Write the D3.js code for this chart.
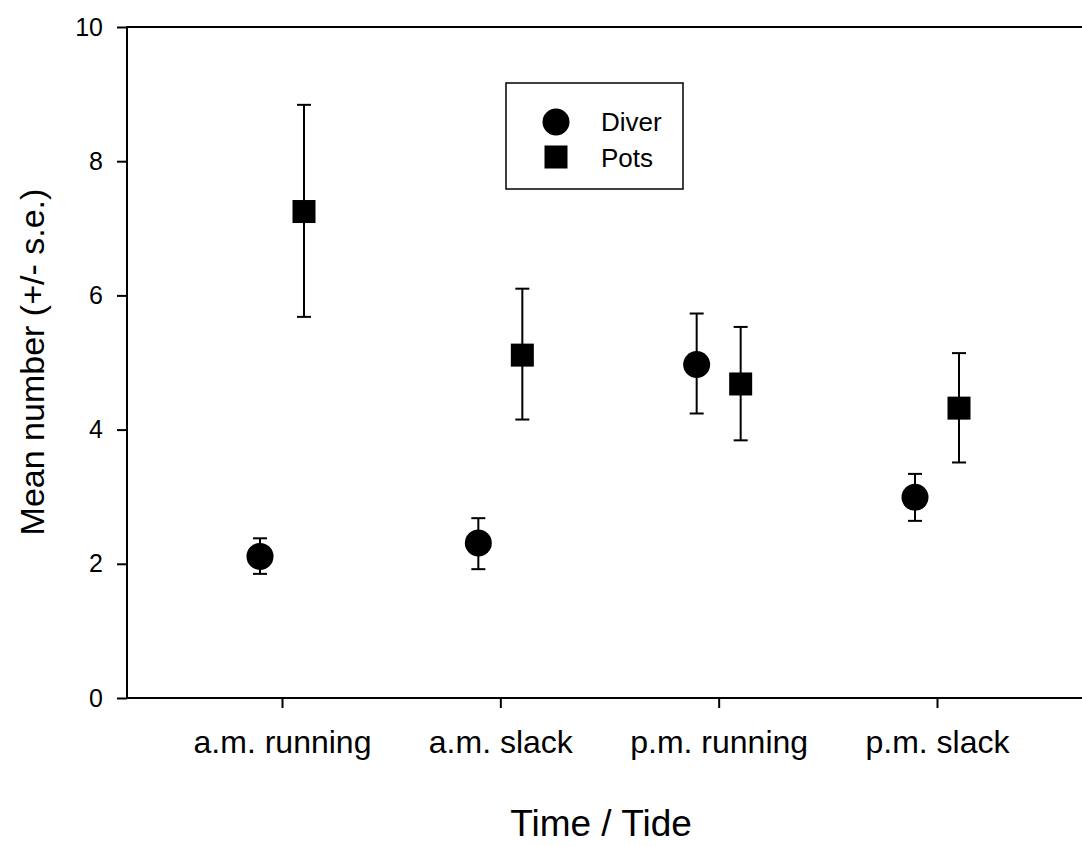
<!DOCTYPE html>
<html>
<head>
<meta charset="utf-8">
<script src="https://cdn.jsdelivr.net/npm/d3@7"></script>
<style>
  html, body { margin: 0; padding: 0; background: #fff; }
  svg { display: block; font-family: "Liberation Sans", Arial, sans-serif; }
</style>
</head>
<body>
<svg id="chart" width="1082" height="846"></svg>
<script>
const categories = ["a.m. running", "a.m. slack", "p.m. running", "p.m. slack"];
const diverMean = [2.11, 2.31, 4.97, 2.99];
const diverUpper = [2.38, 2.68, 5.73, 3.34];
const diverLower = [1.85, 1.92, 4.24, 2.64];
const potsMean = [7.25, 5.11, 4.68, 4.32];
const potsUpper = [8.84, 6.10, 5.53, 5.14];
const potsLower = [5.68, 4.15, 3.84, 3.51];
const yTicks = [0, 2, 4, 6, 8, 10];
const seriesNames = ["Diver", "Pots"];

const svg = d3.select("#chart");
const plotLeft = 127, plotTop = 27, plotBottom = 698, plotRight = 1100;

const x = d3.scalePoint().domain(categories).range([282, 937]);
const y = d3.scaleLinear().domain([0, 10]).range([plotBottom, plotTop]);

// frame (right side runs off the page)
svg.append("path")
  .attr("d", `M${plotRight},${plotTop}H${plotLeft}V${plotBottom}H${plotRight}`)
  .attr("fill", "none").attr("stroke", "#000").attr("stroke-width", 2);

// y axis
const yAxis = svg.append("g").attr("transform", `translate(${plotLeft},0)`)
  .call(d3.axisLeft(y).tickValues(yTicks).tickSize(10).tickPadding(14).tickFormat(d3.format("d")));
yAxis.select(".domain").remove();
yAxis.selectAll("line").attr("stroke", "#000").attr("stroke-width", 2);
yAxis.selectAll("text").attr("font-size", 25).attr("fill", "#000")
  .attr("font-family", "Liberation Sans, Arial, sans-serif");

// x axis
const xAxis = svg.append("g").attr("transform", `translate(0,${plotBottom})`)
  .call(d3.axisBottom(x).tickSize(10).tickPadding(22));
xAxis.select(".domain").remove();
xAxis.selectAll("line").attr("stroke", "#000").attr("stroke-width", 2);
xAxis.selectAll("text").attr("font-size", 32).attr("fill", "#000")
  .attr("font-family", "Liberation Sans, Arial, sans-serif");

// axis titles
svg.append("text").attr("x", 601).attr("y", 836).attr("text-anchor", "middle")
  .attr("font-size", 37).text("Time / Tide");
svg.append("text").attr("transform", "translate(44,362) rotate(-90)")
  .attr("text-anchor", "middle").attr("font-size", 34).text("Mean number (+/- s.e.)");

const off = 22, cap = 7;
function errorBars(g, up, lo, dx) {
  const sel = g.selectAll(null).data(categories).enter().append("g");
  sel.append("line")
    .attr("x1", (d) => x(d) + dx).attr("x2", (d) => x(d) + dx)
    .attr("y1", (d, i) => y(up[i])).attr("y2", (d, i) => y(lo[i]))
    .attr("stroke", "#000").attr("stroke-width", 2);
  sel.append("line")
    .attr("x1", (d) => x(d) + dx - cap).attr("x2", (d) => x(d) + dx + cap)
    .attr("y1", (d, i) => y(up[i])).attr("y2", (d, i) => y(up[i]))
    .attr("stroke", "#000").attr("stroke-width", 2);
  sel.append("line")
    .attr("x1", (d) => x(d) + dx - cap).attr("x2", (d) => x(d) + dx + cap)
    .attr("y1", (d, i) => y(lo[i])).attr("y2", (d, i) => y(lo[i]))
    .attr("stroke", "#000").attr("stroke-width", 2);
}
const g = svg.append("g");
errorBars(g, diverUpper, diverLower, -off);
errorBars(g, potsUpper, potsLower, off);

g.selectAll(".diver").data(categories).enter().append("circle")
  .attr("cx", (d) => x(d) - off).attr("cy", (d, i) => y(diverMean[i]))
  .attr("r", 13.5).attr("fill", "#000");
const sq = 23;
g.selectAll(".pots").data(categories).enter().append("rect")
  .attr("x", (d) => x(d) + off - sq / 2).attr("y", (d, i) => y(potsMean[i]) - sq / 2)
  .attr("width", sq).attr("height", sq).attr("fill", "#000");

// legend
const lg = svg.append("g");
lg.append("rect").attr("x", 506).attr("y", 83).attr("width", 177).attr("height", 106)
  .attr("fill", "#fff").attr("stroke", "#000").attr("stroke-width", 1.5);
lg.append("circle").attr("cx", 556).attr("cy", 122).attr("r", 13.5).attr("fill", "#000");
lg.append("rect").attr("x", 556 - sq / 2).attr("y", 157 - sq / 2).attr("width", sq).attr("height", sq).attr("fill", "#000");
lg.selectAll(".lt").data(seriesNames).enter().append("text")
  .attr("x", 601).attr("y", (d, i) => 131 + i * 36).attr("font-size", 26).text((d) => d);
</script>
</body>
</html>
